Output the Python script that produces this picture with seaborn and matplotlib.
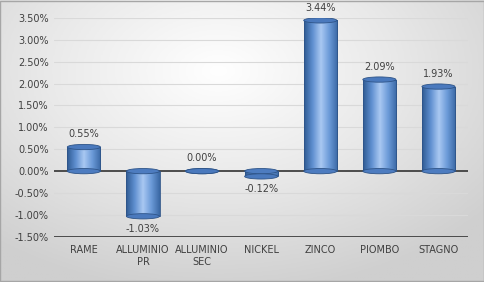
import numpy as np
import pandas as pd
import matplotlib
matplotlib.use("Agg")
import matplotlib.pyplot as plt
from matplotlib.colors import LinearSegmentedColormap
from matplotlib.patches import Ellipse, Rectangle
import seaborn as sns

categories = ["RAME", "ALLUMINIO\nPR", "ALLUMINIO\nSEC", "NICKEL", "ZINCO", "PIOMBO", "STAGNO"]
values = [0.55, -1.03, 0.00, -0.12, 3.44, 2.09, 1.93]
yticks = [-1.5, -1.0, -0.5, 0.0, 0.5, 1.0, 1.5, 2.0, 2.5, 3.0, 3.5]

df = pd.DataFrame({"cat": categories, "val": values})

sns.set_theme(style="white")
plt.rcParams["font.family"] = ["DejaVu Sans"]

fig = plt.figure(figsize=(4.85, 2.82), dpi=100)

# background gradient
bg = fig.add_axes([0, 0, 1, 1], zorder=-10)
yy, xx = np.mgrid[0:1:200j, 0:1:300j]
r = np.sqrt(((xx - 0.45) / 0.9) ** 2 + ((yy - 0.25) / 1.0) ** 2)
bgcmap = LinearSegmentedColormap.from_list("bg", ["#ffffff", "#e9e9e9", "#cfcfcf"])
bg.imshow(r, cmap=bgcmap, extent=[0, 1, 0, 1], aspect="auto", origin="upper", vmin=0, vmax=0.8)
bg.add_patch(Rectangle((0.001, 0.002), 0.997, 0.995, fill=False, edgecolor="#a6a6a6", lw=1.0,
                       transform=bg.transAxes))
bg.set_axis_off()

ax = fig.add_axes([0.112, 0.16, 0.853, 0.777])
ax.patch.set_alpha(0)
sns.barplot(data=df, x="cat", y="val", ax=ax, color="#5b8bd0", width=0.56, saturation=1)

ax.set_ylim(-1.5, 3.5)
ax.set_yticks(yticks)
ax.set_yticklabels([f"{t:.2f}%" for t in yticks], fontsize=7, color="#404040")
ax.tick_params(axis="x", labelsize=7, colors="#404040", length=0, pad=6)
ax.tick_params(axis="y", length=0, pad=4)
ax.set_xlabel("")
ax.set_ylabel("")
for s in ax.spines.values():
    s.set_visible(False)
ax.set_xlim(-0.5, len(categories) - 0.5)

for t in yticks:
    if t in (0.0, -1.5):
        ax.axhline(t, color="#404040", lw=1.3, zorder=1)
    else:
        ax.axhline(t, color="#d9d9d9", lw=0.8, zorder=0)

barcmap = LinearSegmentedColormap.from_list("bar", ["#2f5b93", "#5f8fd0", "#a9c8f2", "#6b9ad8", "#3a68a4"])
grad = np.linspace(0, 1, 100).reshape(1, -1)
cap_h = 0.12
for p, v in zip(ax.patches, values):
    x0 = p.get_x()
    w = p.get_width()
    y0 = min(p.get_y(), p.get_y() + p.get_height())
    h = abs(p.get_height())
    im = ax.imshow(grad, cmap=barcmap, extent=[x0, x0 + w, y0, y0 + h], aspect="auto", zorder=2)
    im.set_clip_path(p)
    p.set_facecolor("none")
    p.set_edgecolor("#2e5488")
    p.set_linewidth(0.6)
    p.set_zorder(3)
    top = p.get_y() + p.get_height()
    bot = p.get_y()
    for yc, fc in ((bot, "#4d7cc0"), (top, "#4a79bd")):
        e = Ellipse((x0 + w / 2, yc), w, cap_h, facecolor=fc, edgecolor="#2e5488", lw=0.6, zorder=4)
        ax.add_patch(e)
    off = 0.18 if v >= 0 else -0.18
    ax.text(x0 + w / 2, top + off, f"{v:.2f}%", ha="center", va="bottom" if v >= 0 else "top",
            fontsize=7, color="#404040", zorder=5)

ax.set_xlim(-0.5, len(categories) - 0.5)
ax.set_ylim(-1.5, 3.5)
fig.savefig("out.png", dpi=100)
